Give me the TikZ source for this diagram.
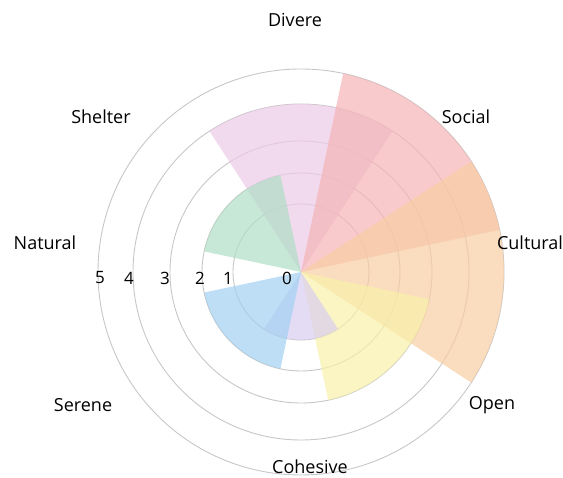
\documentclass[tikz,border=0pt]{standalone}
\usepackage{fontspec}
\setmainfont{Open Sans}
\definecolor{divcol}{RGB}{236,202,231}
\definecolor{soccol}{RGB}{245,180,182}
\definecolor{culcol}{RGB}{248,205,162}
\definecolor{opencol}{RGB}{248,241,169}
\definecolor{cohcol}{RGB}{216,205,241}
\definecolor{sercol}{RGB}{162,208,241}
\definecolor{shecol}{RGB}{176,222,198}
\tikzset{
  ring/.style={draw=black!22, line width=0.9pt},
  petal/.style={fill opacity=0.7},
  cat/.style={font=\fontsize{18}{20}\selectfont},
  tick/.style={font=\fontsize{17}{19}\selectfont}
}
\begin{document}
\begin{tikzpicture}[x=1pt,y=1pt]
\useasboundingbox (-301,-206) rectangle (262,272);
\foreach \r in {68,99,131,168,203} \draw[ring] (0,0) circle (\r);
% petals: centre angle / radius / colour
\foreach \a/\r/\c in {90/168/divcol, 45/203/soccol, 0/203/culcol, -45/131/opencol, -90/68/cohcol, -135/99/sercol, 135/99/shecol}
  \fill[petal,\c] (0,0) -- ({\a-33}:\r) arc[start angle=\a-33, end angle=\a+33, radius=\r] -- cycle;
\node[cat] (divere) at (-6,252) {Divere};
\node[cat] (social) at (165,155) {Social};
\node[cat] (cultural) at (229,29) {Cultural};
\node[cat] (open) at (191,-133) {Open};
\node[cat] (cohesive) at (9,-195) {Cohesive};
\node[cat] (serene) at (-218,-133) {Serene};
\node[cat] (natural) at (-256,29) {Natural};
\node[cat] (shelter) at (-200,155) {Shelter};
\foreach \x/\n in {-201/5,-172/4,-136/3,-101/2,-73/1,-14/0}
  \node[tick] (t\n) at (\x,-6) {\n};
\end{tikzpicture}
\end{document}
